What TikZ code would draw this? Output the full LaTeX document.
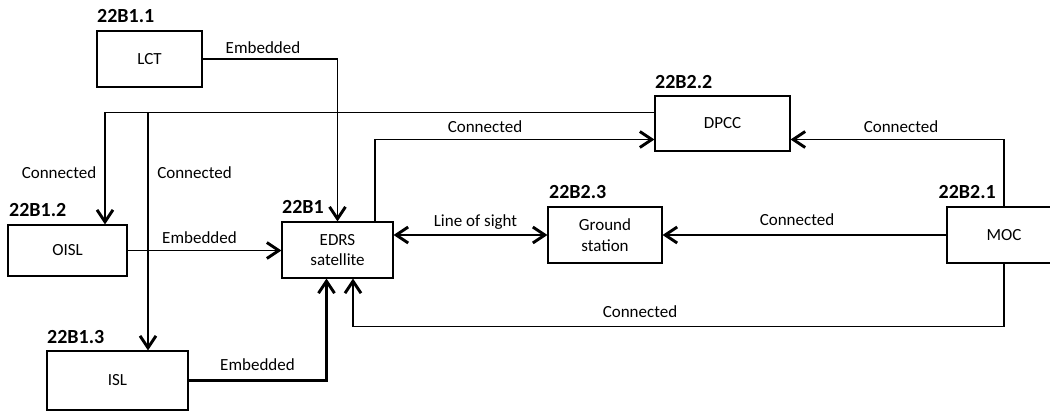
\documentclass[tikz,border=0pt]{standalone}
\usepackage{fontspec}
\setmainfont{Carlito}
\usetikzlibrary{arrows.meta,calc}
\begin{document}
\begin{tikzpicture}[x=1pt,y=-1pt,
  box/.style={draw,line width=1.1pt,inner sep=0pt,align=center,font=\fontsize{17}{20.5}\selectfont},
  tag/.style={font=\fontsize{20}{24}\selectfont\bfseries,inner sep=0pt,anchor=base west},
  lbl/.style={font=\fontsize{17}{20}\selectfont,inner sep=0pt,anchor=base},
  tip/.style={},
  conn/.style={line width=1.9pt,-{Straight Barb[length=12pt,width=16pt,line width=2.9pt]}},
  bothconn/.style={line width=1.9pt,{Straight Barb[length=12pt,width=16pt,line width=2.9pt]}-{Straight Barb[length=12pt,width=16pt,line width=2.9pt]}},
]
\useasboundingbox (0,0) rectangle (1050,413);
\clip (0,0) rectangle (1050,413);

% boxes
\node[box,minimum width=105pt,minimum height=56pt] (LCT) at (149.5,59) {LCT};
\node[box,minimum width=119pt,minimum height=51pt] (OISL) at (67.5,250.5) {OISL};
\node[box,minimum width=111pt,minimum height=56pt] (EDRS) at (337.5,250) {EDRS\\satellite};
\node[box,minimum width=141pt,minimum height=59pt] (ISL) at (117.5,380.5) {ISL};
\node[box,minimum width=135pt,minimum height=55pt] (DPCC) at (722.5,123.5) {DPCC};
\node[box,minimum width=114pt,minimum height=56pt] (GS) at (605,235) {Ground\\station};
\node[box,minimum width=114pt,minimum height=56pt] (MOC) at (1004,235) {MOC};

% tags
\node[tag] (t11) at (97,22) {22B1.1};
\node[tag] (t12) at (9,216.5) {22B1.2};
\node[tag] (t1) at (282,213) {22B1};
\node[tag] (t13) at (47,343) {22B1.3};
\node[tag] (t23) at (549,198) {22B2.3};
\node[tag] (t22) at (655,88) {22B2.2};
\node[tag,anchor=base east] (t21) at (996,198) {22B2.1};

% junction coordinates
\coordinate (j1) at (105,112.5);
\coordinate (j2) at (148,112.5);
\coordinate (k1) at (375,139.5);
\coordinate (m1) at (353,326.5);
\coordinate (n1) at (326.5,380.5);

% connectors
\draw[conn] (LCT.east) -| (EDRS.north);
\draw[conn] (DPCC.west |- j1) -- (j1) -- (j1 |- OISL.north);
\draw[conn] (j2) -- (j2 |- ISL.north);
\draw[conn] (k1 |- EDRS.north) -- (k1) -- (k1 -| DPCC.west);
\draw[bothconn] (EDRS.east |- GS.west) -- (GS.west);
\draw[conn] (MOC.west) -- (GS.east);
\draw[conn] (MOC.north) |- (k1 -| DPCC.east);
\draw[conn] (MOC.south) |- (m1) -- (m1 |- EDRS.south);
\draw[conn] (OISL.east) -- (OISL.east -| EDRS.west);
\draw[conn,line width=2.7pt] (ISL.east) -| (n1 |- EDRS.south);

% labels
\node[lbl] (l1) at (263,53) {Embedded};
\node[lbl] (l2) at (59,178) {Connected};
\node[lbl] (l3) at (194.5,178) {Connected};
\node[lbl] (l4) at (199.5,243) {Embedded};
\node[lbl] (l5) at (257.5,370) {Embedded};
\node[lbl] (l6) at (485,132) {Connected};
\node[lbl] (l7) at (475.5,226) {Line of sight};
\node[lbl] (l8) at (640,317) {Connected};
\node[lbl] (l9) at (901,132) {Connected};
\node[lbl] (l10) at (797,225) {Connected};
\end{tikzpicture}
\end{document}
